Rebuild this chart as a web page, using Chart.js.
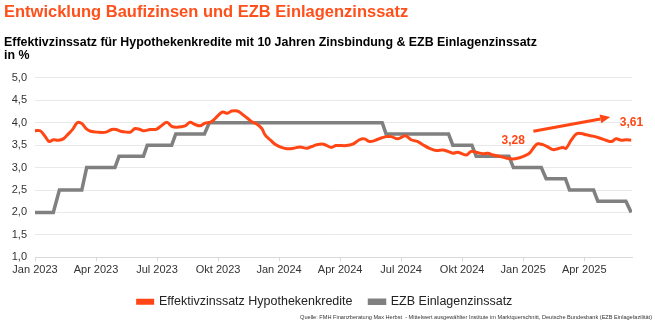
<!DOCTYPE html>
<html>
<head>
<meta charset="utf-8">
<script src="https://cdn.jsdelivr.net/npm/chart.js@4.4.1/dist/chart.umd.min.js"></script>
<style>
  html, body { margin: 0; padding: 0; background: #fff; }
  #wrap { position: relative; width: 655px; height: 324px; }
</style>
</head>
<body>
<div id="wrap"><canvas id="zinsChart" width="655" height="324"></canvas></div>
<script>
// Monate seit Jan 2023 (0 = Jan 2023) und Effektivzinssatz in %
const zinsMonat = [0.00, 0.25, 0.49, 0.70, 0.90, 1.15, 1.39, 1.64, 1.85, 2.08, 2.30, 2.51, 2.74, 3.03, 3.49, 3.77,
  3.98, 4.21, 4.51, 4.70, 4.92, 5.16, 5.36, 5.66, 5.95, 6.18, 6.48, 6.72, 6.97, 7.38, 7.62, 7.87,
  8.11, 8.36, 8.61, 8.85, 9.02, 9.23, 9.46, 9.67, 9.95, 10.16, 10.41, 10.66, 10.90, 11.15, 11.31, 11.56,
  11.80, 12.05, 12.38, 12.70, 13.03, 13.36, 13.61, 13.85, 14.18, 14.56, 14.80, 15.30, 15.62, 15.95,
  16.20, 16.44, 16.69, 17.02, 17.26, 17.51, 17.84, 18.21, 18.49, 18.82, 19.07, 19.39, 19.72, 20.05,
  20.30, 20.54, 20.79, 21.20, 21.44, 21.69, 22.02, 22.26, 22.51, 22.84, 23.16, 23.49, 23.82, 24.07,
  24.31, 24.56, 24.72, 24.97, 25.21, 25.46, 25.70, 25.95, 26.11, 26.36, 26.61, 26.85, 27.10, 27.43,
  27.75, 28.08, 28.33, 28.57, 28.82, 29.07, 29.31];
const zinsWert = [3.82, 3.82, 3.70, 3.58, 3.62, 3.61, 3.64, 3.75, 3.85, 4.00, 3.98, 3.87, 3.81, 3.79, 3.79, 3.85,
  3.85, 3.81, 3.79, 3.79, 3.87, 3.85, 3.82, 3.85, 3.85, 3.92, 4.01, 3.92, 3.90, 3.93, 4.01, 3.96,
  3.93, 3.99, 4.01, 4.09, 4.17, 4.24, 4.21, 4.26, 4.26, 4.20, 4.11, 4.02, 3.97, 3.87, 3.73, 3.62,
  3.52, 3.46, 3.42, 3.43, 3.46, 3.43, 3.47, 3.51, 3.52, 3.45, 3.49, 3.49, 3.52, 3.62,
  3.64, 3.58, 3.60, 3.66, 3.69, 3.69, 3.64, 3.71, 3.62, 3.58, 3.51, 3.43, 3.38, 3.39,
  3.36, 3.32, 3.34, 3.28, 3.36, 3.34, 3.31, 3.32, 3.28, 3.25, 3.21, 3.19, 3.22, 3.26,
  3.32, 3.47, 3.53, 3.51, 3.46, 3.40, 3.42, 3.45, 3.43, 3.61, 3.75, 3.76, 3.73, 3.70,
  3.66, 3.61, 3.58, 3.64, 3.61, 3.62, 3.61];

// EZB Einlagenzinssatz (Stufen)
const ezbMonat = [0, 0.90, 1.20, 2.30, 2.54, 3.93, 4.13, 5.33, 5.52, 6.72, 6.92, 8.33, 8.57,
  17.07, 17.26, 20.33, 20.54, 21.48, 21.69, 23.30, 23.52, 24.89, 25.13, 26.08, 26.28, 27.46, 27.67, 29.05, 29.31];
const ezbWert = [2.00, 2.00, 2.50, 2.50, 3.00, 3.00, 3.25, 3.25, 3.50, 3.50, 3.75, 3.75, 4.00,
  4.00, 3.75, 3.75, 3.50, 3.50, 3.25, 3.25, 3.00, 3.00, 2.75, 2.75, 2.50, 2.50, 2.25, 2.25, 2.00];

const tickMonate = [0, 3, 6, 9, 12, 15, 18, 21, 24, 27];
const tickLabels = ['Jan 2023', 'Apr 2023', 'Jul 2023', 'Okt 2023', 'Jan 2024', 'Apr 2024',
  'Jul 2024', 'Okt 2024', 'Jan 2025', 'Apr 2025'];

const ORANGE = '#ff4614';
const GRAU = '#808080';

// Pfeil, Werte und Quelle
const annotationPlugin = {
  id: 'annotationen',
  afterLayout(chart) {
    // Legende etwas nach rechts, wie im Original
    chart.legend.left += 7;
    chart.legend.right += 7;
  },
  afterDatasetsDraw(chart) {
    const { ctx, scales: { x, y } } = chart;
    ctx.save();
    ctx.fillStyle = ORANGE;
    ctx.strokeStyle = ORANGE;
    ctx.font = 'bold 12px "Liberation Sans", Arial, sans-serif';
    ctx.textAlign = 'center';
    ctx.textBaseline = 'middle';
    ctx.fillText('3,28', x.getPixelForValue(23.51), y.getPixelForValue(3.59));
    ctx.fillText('3,61', x.getPixelForValue(29.32), y.getPixelForValue(3.99));

    const x1 = x.getPixelForValue(24.5), y1 = y.getPixelForValue(3.81);
    const x2 = x.getPixelForValue(28.28), y2 = y.getPixelForValue(4.125);
    const ang = Math.atan2(y2 - y1, x2 - x1);
    const kopf = 10;
    ctx.lineWidth = 3;
    ctx.beginPath();
    ctx.moveTo(x1, y1);
    ctx.lineTo(x2 - kopf * Math.cos(ang), y2 - kopf * Math.sin(ang));
    ctx.stroke();
    ctx.beginPath();
    ctx.moveTo(x2, y2);
    ctx.lineTo(x2 - kopf * Math.cos(ang) + 4.5 * Math.sin(ang), y2 - kopf * Math.sin(ang) - 4.5 * Math.cos(ang));
    ctx.lineTo(x2 - kopf * Math.cos(ang) - 4.5 * Math.sin(ang), y2 - kopf * Math.sin(ang) + 4.5 * Math.cos(ang));
    ctx.closePath();
    ctx.fill();

    ctx.fillStyle = '#333';
    ctx.font = '5.6px "Liberation Sans", Arial, sans-serif';
    ctx.textAlign = 'right';
    ctx.fillText('Quelle: FMH Finanzberatung Max Herbst  - Mittelwert ausgewählter Institute im Marktquerschnitt, Deutsche Bundesbank (EZB Einlagefazilität)', 652, 317);
    ctx.restore();
  }
};

new Chart(document.getElementById('zinsChart'), {
  type: 'line',
  data: {
    datasets: [{
      label: 'Effektivzinssatz Hypothekenkredite',
      data: zinsMonat.map((m, i) => ({ x: m, y: zinsWert[i] })),
      borderColor: ORANGE,
      backgroundColor: ORANGE,
      borderWidth: 3,
      pointRadius: 0,
      tension: 0.35
    }, {
      label: 'EZB Einlagenzinssatz',
      data: ezbMonat.map((m, i) => ({ x: m, y: ezbWert[i] })),
      borderColor: GRAU,
      backgroundColor: GRAU,
      borderWidth: 3.5,
      pointRadius: 0,
      tension: 0
    }]
  },
  options: {
    responsive: false,
    animation: false,
    events: [],
    layout: { padding: { left: 4, right: 23, top: 0, bottom: 6 } },
    plugins: {
      title: {
        display: true,
        text: 'Entwicklung Baufizinsen und EZB Einlagenzinssatz',
        align: 'start',
        color: '#ff4f1a',
        font: { family: '"Liberation Sans", Arial, sans-serif', size: 16.5, weight: 'bold', lineHeight: 1.2 },
        padding: { top: 3, bottom: 13 }
      },
      subtitle: {
        display: true,
        text: ['Effektivzinssatz für Hypothekenkredite mit 10 Jahren Zinsbindung & EZB Einlagenzinssatz', 'in %'],
        align: 'start',
        color: '#000',
        font: { family: '"Liberation Sans", Arial, sans-serif', size: 12.4, weight: 'bold', lineHeight: 1.05 },
        padding: { top: 0, bottom: 16 }
      },
      legend: {
        position: 'bottom',
        labels: {
          boxWidth: 15,
          boxHeight: 3,
          padding: 17,
          color: '#222',
          font: { family: '"Liberation Sans", Arial, sans-serif', size: 12.5 }
        }
      },
      tooltip: { enabled: false }
    },
    scales: {
      x: {
        type: 'linear',
        min: 0,
        max: 29.35,
        afterBuildTicks: (s) => { s.ticks = tickMonate.map(v => ({ value: v })); },
        ticks: {
          autoSkip: false,
          maxRotation: 0,
          padding: 2,
          color: '#333',
          font: { family: '"Liberation Sans", Arial, sans-serif', size: 11 },
          callback: (v) => tickLabels[tickMonate.indexOf(v)]
        },
        grid: { drawOnChartArea: false, drawTicks: true, tickLength: 4, color: '#d9d9d9' },
        border: { color: '#d9d9d9' }
      },
      y: {
        min: 1,
        max: 5,
        afterFit: (s) => { s.width = 31; },
        ticks: {
          stepSize: 0.5,
          padding: 8,
          color: '#333',
          font: { family: '"Liberation Sans", Arial, sans-serif', size: 11 },
          callback: (v) => v.toFixed(1).replace('.', ',')
        },
        grid: { color: '#e8e8e8', drawTicks: false },
        border: { display: false }
      }
    }
  },
  plugins: [annotationPlugin]
});
</script>
</body>
</html>
